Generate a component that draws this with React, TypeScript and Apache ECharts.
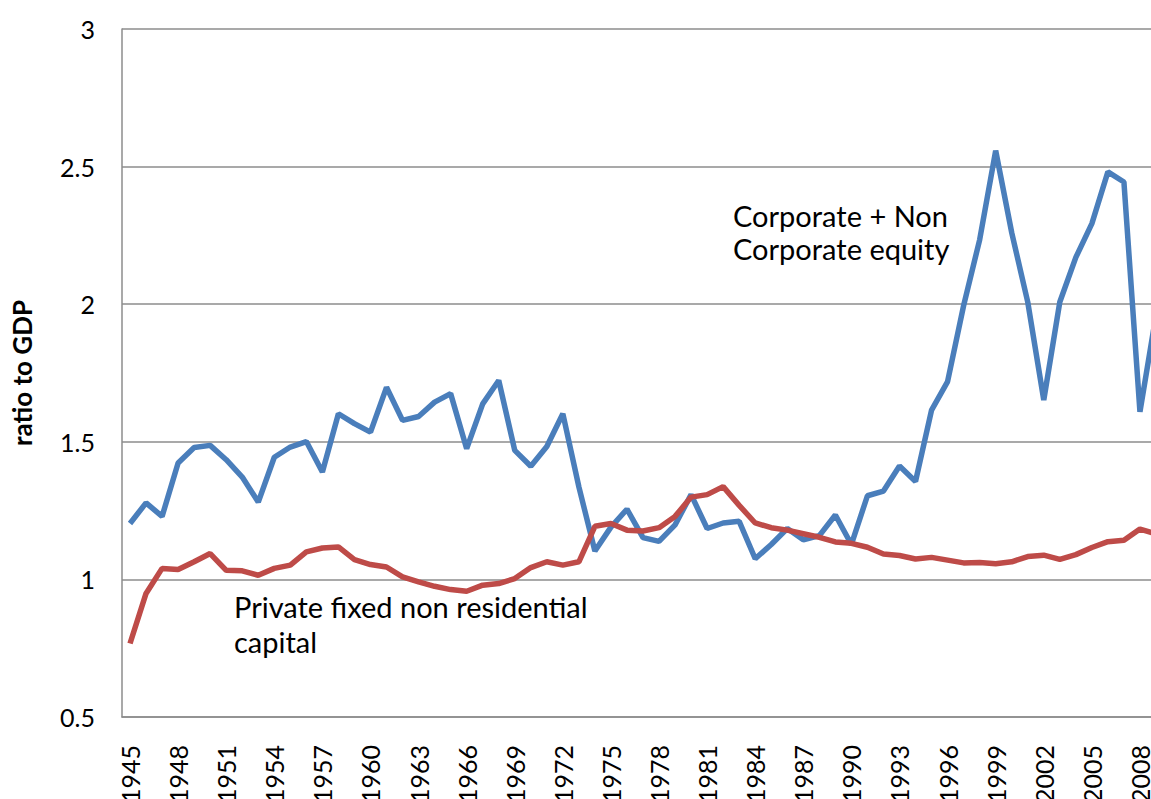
import React, { useEffect, useRef } from "react";
import * as echarts from "echarts";

const years: string[] = [];
for (let y = 1945; y <= 2009; y++) years.push(String(y));

const equity = [
  1.203, 1.278, 1.229, 1.423, 1.479, 1.487, 1.435, 1.372, 1.281, 1.444,
  1.481, 1.501, 1.39, 1.602, 1.566, 1.535, 1.698, 1.578, 1.592, 1.644,
  1.675, 1.475, 1.638, 1.723, 1.469, 1.411, 1.483, 1.602, 1.336, 1.103,
  1.19, 1.255, 1.152, 1.138, 1.198, 1.308, 1.185, 1.205, 1.211, 1.075,
  1.127, 1.185, 1.144, 1.159, 1.234, 1.127, 1.304, 1.321, 1.412, 1.356,
  1.615, 1.719, 1.995, 2.234, 2.558, 2.26, 2.008, 1.652, 2.008, 2.17,
  2.293, 2.481, 2.444, 1.609, 1.96,
];

const capital = [
  0.767, 0.949, 1.04, 1.036, 1.064, 1.094, 1.033, 1.031, 1.015, 1.04,
  1.052, 1.1, 1.114, 1.118, 1.072, 1.054, 1.045, 1.009, 0.991, 0.975,
  0.963, 0.957, 0.979, 0.985, 1.003, 1.043, 1.064, 1.052, 1.064, 1.193,
  1.203, 1.179, 1.176, 1.188, 1.229, 1.299, 1.308, 1.337, 1.269, 1.205,
  1.188, 1.179, 1.166, 1.153, 1.136, 1.131, 1.117, 1.092, 1.087, 1.074,
  1.08, 1.07, 1.06, 1.061, 1.057, 1.064, 1.083, 1.088, 1.073, 1.09,
  1.116, 1.137, 1.142, 1.183, 1.165,
];

const yTicks = { min: 0.5, max: 3, interval: 0.5 };
const yTitle = "ratio to GDP";
const equityLabel = "Corporate + Non\nCorporate equity";
const capitalLabel = "Private fixed non residential\ncapital";

const FONT = "Lato, 'Noto Sans', sans-serif";

export default function App() {
  const ref = useRef<HTMLDivElement>(null);
  useEffect(() => {
    if (!ref.current) return;
    const chart = echarts.init(ref.current, undefined, { renderer: "svg" });
    chart.setOption({
      animation: false,
      backgroundColor: "#ffffff",
      textStyle: { fontFamily: FONT },
      grid: {
        left: 122,
        top: 29,
        width: 1042,
        height: 688,
        containLabel: false,
        outerBoundsMode: "none",
      },
      xAxis: {
        type: "category",
        data: years,
        boundaryGap: true,
        axisLine: { show: true, lineStyle: { color: "#8c8c8c", width: 1.5 } },
        axisTick: { show: false },
        axisLabel: {
          interval: 2,
          rotate: 90,
          margin: 28,
          fontSize: 25,
          color: "#000",
          fontFamily: FONT,
        },
        splitLine: { show: false },
      },
      yAxis: {
        type: "value",
        min: yTicks.min,
        max: yTicks.max,
        interval: yTicks.interval,
        axisLine: { show: true, lineStyle: { color: "#8c8c8c", width: 1.5 } },
        axisTick: { show: false },
        axisLabel: {
          margin: 27,
          fontSize: 25,
          color: "#000",
          fontFamily: FONT,
        },
        splitLine: { show: true, lineStyle: { color: "#8c8c8c", width: 1.5 } },
      },
      series: [
        {
          name: "Corporate + Non Corporate equity",
          type: "line",
          data: equity,
          symbol: "none",
          lineStyle: { color: "#4A7EBB", width: 5.5 },
          itemStyle: { color: "#4A7EBB" },
          z: 3,
        },
        {
          name: "Private fixed non residential capital",
          type: "line",
          data: capital,
          symbol: "none",
          lineStyle: { color: "#BE4B48", width: 5.5 },
          itemStyle: { color: "#BE4B48" },
          z: 4,
        },
      ],
      graphic: [
        {
          type: "text",
          x: 22,
          y: 373,
          rotation: Math.PI / 2,
          style: {
            text: yTitle,
            font: `bold 26px ${FONT}`,
            fill: "#000",
            align: "center",
            verticalAlign: "middle",
          },
        },
        {
          type: "text",
          x: 733,
          y: 199,
          style: {
            text: equityLabel,
            font: `29px ${FONT}`,
            lineHeight: 33,
            fill: "#000",
            align: "left",
            verticalAlign: "top",
          },
        },
        {
          type: "text",
          x: 234,
          y: 589,
          style: {
            text: capitalLabel,
            font: `29px ${FONT}`,
            lineHeight: 35,
            fill: "#000",
            align: "left",
            verticalAlign: "top",
          },
        },
      ],
    });
    return () => chart.dispose();
  }, []);
  return (
    <div
      ref={ref}
      style={{ position: "absolute", left: 0, top: 0, width: 1151, height: 799, overflow: "hidden" }}
    />
  );
}
